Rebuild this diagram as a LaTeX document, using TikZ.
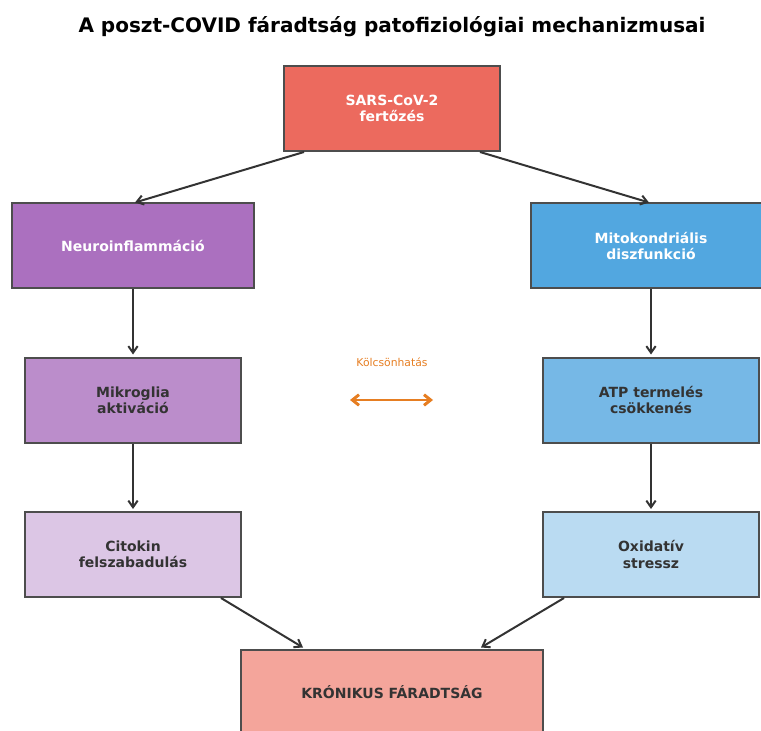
\documentclass[tikz,border=0pt]{standalone}
\usepackage{fontspec}
\setmainfont{DejaVu Sans}
\usetikzlibrary{arrows.meta,positioning}
\definecolor{sarsred}{HTML}{EC6A5E}
\definecolor{neuro}{HTML}{AB70BF}
\definecolor{mito}{HTML}{52A7E0}
\definecolor{mikro}{HTML}{BB8DCB}
\definecolor{atp}{HTML}{76B8E6}
\definecolor{citokin}{HTML}{DCC6E5}
\definecolor{oxid}{HTML}{BADBF2}
\definecolor{kronikus}{HTML}{F4A59B}
\definecolor{edgegray}{HTML}{4D4D4D}
\definecolor{txt}{HTML}{333333}
\definecolor{kolcs}{HTML}{E67E22}

\begin{document}
\begin{tikzpicture}[x=0.75pt,y=-0.75pt,
  box/.style={draw=edgegray,line width=1.5pt,minimum height=85*0.75pt,align=center,
    font=\fontsize{10.5}{12.2}\selectfont\bfseries,text=txt},
  light/.style={text=white},
  arr/.style={-{Straight Barb[length=5pt,width=7pt]},draw=txt,line width=1.5pt}]
  \clip (0,0) rectangle (761,731);
  \node[font=\fontsize{15}{18}\selectfont\bfseries] (title) at (392,27) {A poszt-COVID fáradtság patofiziológiai mechanizmusai};
  \node[box,light,fill=sarsred,minimum width=216*0.75pt] (sars) at (392,108.5) {SARS-CoV-2\\fertőzés};
  \node[box,light,fill=neuro,minimum width=242*0.75pt] (neuro) at (133,246) {Neuroinflammáció};
  \node[box,light,fill=mito,minimum width=240*0.75pt] (mito) at (651,246) {Mitokondriális\\diszfunkció};
  \node[box,fill=mikro,minimum width=216*0.75pt] (mikro) at (133,400) {Mikroglia\\aktiváció};
  \node[box,fill=atp,minimum width=216*0.75pt] (atp) at (651,400) {ATP termelés\\csökkenés};
  \node[box,fill=citokin,minimum width=216*0.75pt] (citokin) at (133,554.5) {Citokin\\felszabadulás};
  \node[box,fill=oxid,minimum width=216*0.75pt] (oxid) at (651,554.5) {Oxidatív\\stressz};
  \node[box,fill=kronikus,minimum width=302*0.75pt] (kronikus) at (392,692) {KRÓNIKUS FÁRADTSÁG};
  \coordinate (kl) at (350,400);
  \coordinate (kr) at (433,400);
  \node[text=kolcs,font=\fontsize{8.1}{9.5}\selectfont] (kolcslabel) at (392,362) {Kölcsönhatás};

  \draw[arr] ([xshift=21*0.75pt]sars.south west) -- ([xshift=2*0.75pt]neuro.north);
  \draw[arr] ([xshift=-21*0.75pt]sars.south east) -- ([xshift=-2*0.75pt]mito.north);
  \draw[arr] (neuro) -- ([yshift=2*0.75pt]mikro.north);
  \draw[arr] (mikro) -- ([yshift=2*0.75pt]citokin.north);
  \draw[arr] (mito) -- ([yshift=2*0.75pt]atp.north);
  \draw[arr] (atp) -- ([yshift=2*0.75pt]oxid.north);
  \draw[arr] ([xshift=-21*0.75pt]citokin.south east) -- ([xshift=63*0.75pt,yshift=1*0.75pt]kronikus.north west);
  \draw[arr] ([xshift=22*0.75pt]oxid.south west) -- ([xshift=-63*0.75pt,yshift=1*0.75pt]kronikus.north east);
  \draw[{Straight Barb[length=5pt,width=8pt]}-{Straight Barb[length=5pt,width=8pt]},draw=kolcs,line width=2.2pt] (kl) -- (kr);
\end{tikzpicture}
\end{document}
